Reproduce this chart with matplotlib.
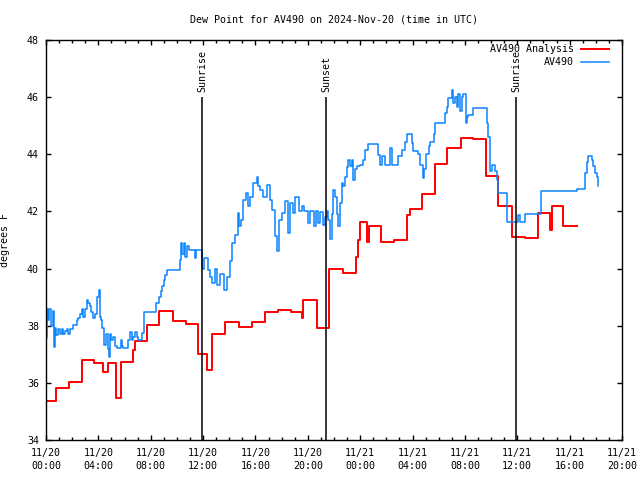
import numpy as np
import pandas as pd
import matplotlib
matplotlib.use('Agg')
import matplotlib.pyplot as plt
import matplotlib.dates as mdates

plt.rcParams['font.family'] = 'DejaVu Sans Mono'
plt.rcParams['font.size'] = 7.2

# hours after 2024-11-20 00:00 UTC
analysis_hours = [0.0, 0.76, 1.78, 2.72, 3.69, 4.38, 4.71, 5.35, 5.73, 6.67, 6.80,
                  7.69, 8.66, 9.68, 10.70, 11.64, 12.27, 12.71, 13.67, 14.77, 15.71,
                  16.73, 17.70, 18.72, 19.53, 19.66, 20.68, 21.64, 22.66, 23.66, 23.80,
                  23.99, 24.50, 24.68, 25.60, 26.59, 27.60, 27.80, 28.70, 29.72, 30.60,
                  31.68, 32.60, 33.59, 34.55, 35.58, 36.60, 37.60, 38.50, 38.63, 39.52,
                  40.59]
analysis_vals = [35.35, 35.81, 36.02, 36.80, 36.68, 36.37, 36.68, 35.47, 36.72, 37.15, 37.47,
                 38.01, 38.50, 38.18, 38.06, 37.00, 36.45, 37.70, 38.14, 37.94, 38.14,
                 38.49, 38.54, 38.47, 38.26, 38.89, 37.92, 39.97, 39.86, 40.40, 41.00,
                 41.64, 40.92, 41.50, 40.92, 41.00, 41.87, 42.08, 42.61, 43.65, 44.23,
                 44.56, 44.52, 43.24, 42.19, 41.12, 41.06, 41.93, 41.35, 42.20, 41.49,
                 41.49]

obs_hours = [0.00, 0.04, 0.15, 0.25, 0.35, 0.50, 0.62, 0.69, 0.80, 0.95, 1.07, 1.20, 1.32,
             1.45, 1.58, 1.70, 1.85, 2.09, 2.35, 2.45, 2.60, 2.72, 2.85, 3.00, 3.11, 3.20,
             3.35, 3.45, 3.62, 3.75, 3.90, 4.02, 4.10, 4.20, 4.30, 4.45, 4.55, 4.70, 4.80,
             4.90, 5.00, 5.10, 5.25, 5.40, 5.70, 5.80, 5.91, 6.30, 6.42, 6.55, 6.65, 6.80,
             6.93, 7.05, 7.30, 7.45, 8.40, 8.66, 8.75, 8.85, 8.98, 9.10, 9.22, 10.24, 10.32,
             10.40, 10.55, 10.65, 10.75, 10.90, 11.38, 11.45, 11.89, 11.95, 12.10, 12.40,
             12.50, 12.65, 12.91, 13.10, 13.30, 13.60, 13.80, 14.05, 14.18, 14.45, 14.69,
             14.78, 14.90, 15.07, 15.30, 15.45, 15.58, 15.85, 16.09, 16.20, 16.35, 16.60,
             16.85, 17.11, 17.25, 17.49, 17.62, 17.82, 18.00, 18.26, 18.50, 18.64, 18.90,
             19.02, 19.30, 19.53, 19.70, 20.00, 20.20, 20.50, 20.60, 20.80, 20.93, 21.19,
             21.32, 21.45, 21.57, 21.70, 21.83, 21.95, 22.08, 22.20, 22.33, 22.46, 22.59,
             22.72, 22.85, 22.97, 23.10, 23.22, 23.35, 23.48, 23.61, 23.74, 23.99, 24.24,
             24.37, 24.62, 25.39, 25.52, 25.64, 25.90, 26.28, 26.41, 26.92, 27.18, 27.43,
             27.56, 27.94, 28.07, 28.45, 28.58, 28.77, 28.84, 29.02, 29.22, 29.36, 29.62,
             29.75, 30.10, 30.48, 30.61, 30.74, 30.99, 31.12, 31.25, 31.38, 31.50, 31.63,
             31.76, 31.89, 32.07, 32.14, 32.27, 32.65, 33.66, 33.79, 33.92, 34.05, 34.30,
             34.43, 34.56, 35.20, 36.08, 36.21, 36.60, 37.79, 40.54, 41.18, 41.30, 41.43,
             41.69, 41.82, 41.94, 42.07, 42.20]
obs_vals = [37.56, 38.58, 38.20, 38.60, 38.00, 38.50, 37.26, 37.91, 37.67, 37.90, 37.70, 37.90, 37.70,
            37.80, 37.90, 37.70, 37.90, 38.02, 38.20, 38.26, 38.40, 38.58, 38.30, 38.60, 38.90, 38.78,
            38.70, 38.49, 38.26, 38.40, 39.02, 39.25, 38.30, 38.20, 37.91, 37.33, 37.70, 37.20, 36.89,
            37.70, 37.50, 37.60, 37.30, 37.21, 37.50, 37.30, 37.21, 37.50, 37.79, 37.50, 37.60, 37.79,
            37.60, 37.50, 37.73, 38.49, 38.78, 39.02, 39.20, 39.40, 39.60, 39.77, 39.95, 40.30, 40.88,
            40.50, 40.90, 40.40, 40.80, 40.65, 40.36, 40.65, 40.20, 40.00, 40.36, 39.95,
            39.72, 39.48, 40.00, 39.43, 39.80, 39.25, 39.72, 40.27, 40.88, 41.17, 41.93,
            41.50, 41.70, 42.40, 42.63, 42.20, 42.50, 42.98, 43.22, 42.90, 42.75, 42.50,
            42.92, 42.40, 42.05, 41.14, 40.60, 41.70, 41.93, 42.35, 41.23, 42.30, 41.93,
            42.50, 42.00, 42.20, 42.00, 41.58, 42.00, 41.50, 42.00, 41.58, 41.99, 41.52,
            41.80, 42.00, 41.70, 41.05, 41.90, 42.75, 42.50, 41.90, 41.50, 42.30, 42.98,
            42.90, 43.22, 43.57, 43.80, 43.60, 43.80, 43.10, 43.50, 43.59, 43.62, 43.80,
            44.15, 44.36, 43.98, 43.62, 43.94, 43.62, 44.21, 43.62, 43.94, 44.15, 44.44,
            44.71, 44.40, 44.10, 44.00, 43.62, 43.16, 43.50, 44.00, 44.30, 44.44, 44.70,
            45.08, 45.10, 45.43, 45.67, 45.96, 46.25, 45.80, 46.00, 45.67, 46.10, 45.50,
            46.00, 46.10, 45.08, 45.30, 45.36, 45.62, 45.08, 44.62, 43.40, 43.62, 43.40,
            43.10, 42.63, 41.64, 41.88, 41.64, 41.91, 42.73, 42.80, 43.33, 43.74, 43.94,
            43.80, 43.60, 43.36, 43.20, 42.90]

sun_hours = [11.92, 21.42, 35.90]
sun_labels = ['Sunrise', 'Sunset', 'Sunrise']

base = pd.Timestamp('2024-11-20 00:00')
def to_time(h):
    return base + pd.to_timedelta(np.array(h), unit='h')

fig = plt.figure(figsize=(6.4, 4.8), dpi=100)
ax = fig.add_axes([46/640, 40/480, 576/640, 400/480])

ax.plot(to_time(analysis_hours), analysis_vals, drawstyle='steps-post', color='#ff0000', lw=1.4)
ax.plot(to_time(obs_hours), obs_vals, drawstyle='steps-post', color='#0a84ff', lw=1.1)

for h, lab in zip(sun_hours, sun_labels):
    t = to_time([h])[0]
    ax.vlines(t, 34, 46, color='black', lw=1.1)
    ax.text(t, 46.17, lab, rotation=90, ha='center', va='bottom')

ax.set_xlim(base, base + pd.Timedelta(hours=44))
ax.set_ylim(34, 48)
ax.set_yticks(np.arange(34, 49, 2))
ax.xaxis.set_major_locator(mdates.HourLocator(byhour=range(0, 24, 4)))
ax.xaxis.set_minor_locator(mdates.HourLocator())
ax.xaxis.set_major_formatter(mdates.DateFormatter('%m/%d\n%H:%M'))
ax.tick_params(which='both', direction='in', top=True, right=True, width=1)
ax.tick_params(which='major', length=3.5)
ax.tick_params(which='minor', length=2)
ax.tick_params(axis='x', pad=6)
ax.tick_params(axis='y', pad=5)
for lbl in ax.get_xticklabels():
    lbl.set_linespacing(1.35)
for s in ax.spines.values():
    s.set_linewidth(1.0)

ax.set_ylabel('degrees F')
ax.yaxis.set_label_coords(-36/576, 0.5)

# legend, gnuplot style: text right-justified, sample to the right
ax.text(528/576, 0.9775, 'AV490 Analysis', transform=ax.transAxes, ha='right', va='center')
ax.plot([535/576, 563/576], [0.9775, 0.9775], transform=ax.transAxes, color='#ff0000', lw=1.4)
ax.text(528/576, 0.945, 'AV490', transform=ax.transAxes, ha='right', va='center')
ax.plot([535/576, 563/576], [0.945, 0.945], transform=ax.transAxes, color='#0a84ff', lw=1.1)

fig.text(334/640, 1 - 20/480, 'Dew Point for AV490 on 2024-Nov-20 (time in UTC)', ha='center', va='center')

fig.savefig('out.png', dpi=100)
